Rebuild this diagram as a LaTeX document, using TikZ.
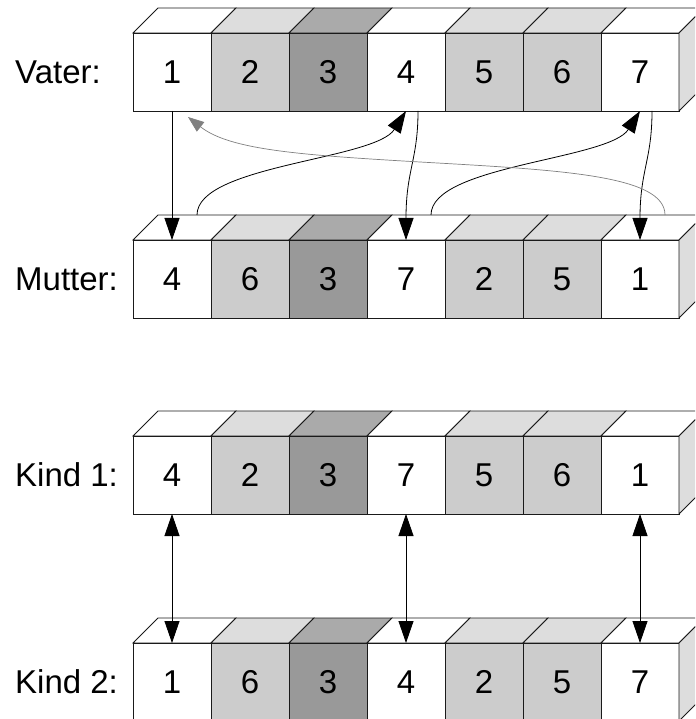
\documentclass[tikz,border=0pt]{standalone}
\usepackage{fontspec}
\setmainfont{Liberation Sans}
\usetikzlibrary{arrows.meta,calc}
\definecolor{lg}{HTML}{CCCCCC}
\definecolor{ltop}{HTML}{DDDDDD}
\definecolor{dg}{HTML}{999999}
\definecolor{dtop}{HTML}{AAAAAA}
\definecolor{edge}{HTML}{1A1A1A}
\tikzset{
  cell/.style={draw=edge, line width=0.8pt, minimum width=78pt, minimum height=78pt,
    inner sep=0pt, outer sep=0pt, anchor=north west, font=\fontsize{33}{33}\selectfont},
  face/.style={draw=edge, line width=0.8pt},
  lab/.style={anchor=west, inner sep=0pt, font=\fontsize{33}{33}\selectfont},
  arr/.style={draw=black, line width=0.8pt, -{Triangle[length=22pt,width=15pt]}},
  garr/.style={draw=gray, line width=0.7pt, -{Triangle[length=16pt,width=12pt]}},
  darr/.style={draw=black, line width=0.8pt, {Triangle[length=22pt,width=15pt]}-{Triangle[length=22pt,width=15pt]}},
}
\newcommand\generow[9]{%
  \foreach \dg/\fc/\tc [count=\i] in {#3/white/white,#4/lg/ltop,#5/dg/dtop,#6/white/white,#7/lg/ltop,#8/lg/ltop,#9/white/white}{
    \pgfmathsetmacro\xl{133+78*(\i-1)}
    \filldraw[face, fill=\tc] (\xl,#1) -- ++(25,-25) -- ++(78,0) -- ++(-25,25) -- cycle;
    \node[cell, fill=\fc] (#2\i) at (\xl,#1) {\dg};
    \coordinate (#2t\i) at (\xl+64,#1-25);
  }
  \filldraw[face, fill=ltop] (679,#1) -- ++(25,-25) -- ++(0,78) -- ++(-25,25) -- cycle;
}
\begin{document}
\begin{tikzpicture}[x=1pt,y=-1pt]
\useasboundingbox (0,0) rectangle (695,719);
\clip (0,0) rectangle (695,719);
\fill[white] (0,0) rectangle (695,719);

\generow{33}{v}{1}{2}{3}{4}{5}{6}{7}
\generow{240}{m}{4}{6}{3}{7}{2}{5}{1}
\generow{436}{ka}{4}{2}{3}{7}{5}{6}{1}
\generow{643}{kb}{1}{6}{3}{4}{2}{5}{7}

\node[lab] (lv) at (15,72) {Vater:};
\node[lab] (lm) at (15,279) {Mutter:};
\node[lab] (lk1) at (15,475) {Kind 1:};
\node[lab] (lk2) at (15,682) {Kind 2:};

% Vater -> Mutter
\draw[arr] (v1.south) -- (m1.north);
\draw[arr] (mt1) .. controls ($(mt1)+(0,-50)$) and ($(v4.south)+(-31,49)$) .. (v4.south);
\draw[arr] ($(v4.south)+(12,0)$) .. controls ($(v4.south)+(12,49)$) and ($(m4.north)+(0,-70)$) .. (m4.north);
\draw[arr] (mt4) .. controls ($(mt4)+(0,-50)$) and ($(v7.south)+(-31,49)$) .. (v7.south);
\draw[arr] ($(v7.south)+(12,0)$) .. controls ($(v7.south)+(12,49)$) and ($(m7.north)+(0,-70)$) .. (m7.north);
\coordinate (gmid) at (420,162);
\draw[garr] (mt7) .. controls ($(mt7)+(0,-40)$) and ($(gmid)+(140,8)$) .. (gmid)
  .. controls ($(gmid)+(-120,-7)$) and ($(v1.south)+(58,39)$) .. ($(v1.south)+(16,6)$);

% Kind 1 <-> Kind 2
\draw[darr] (ka1.south) -- (kb1.north);
\draw[darr] (ka4.south) -- (kb4.north);
\draw[darr] (ka7.south) -- (kb7.north);
\end{tikzpicture}
\end{document}
